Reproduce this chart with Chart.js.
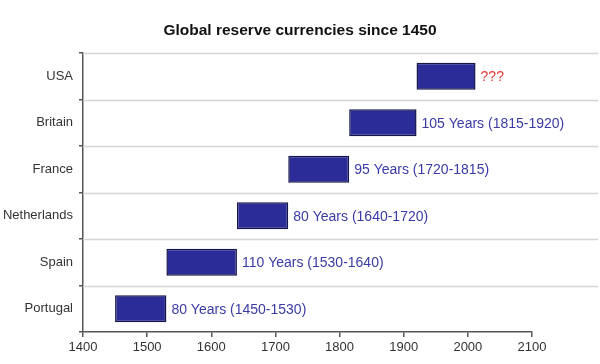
<!DOCTYPE html>
<html>
<head>
<meta charset="utf-8">
<script src="https://cdn.jsdelivr.net/npm/chart.js@4/dist/chart.umd.min.js"></script>
<style>
  html, body { margin: 0; padding: 0; background: #ffffff; }
  #wrap { width: 600px; height: 364px; }
</style>
</head>
<body>
<div id="wrap"><canvas id="reserveChart"></canvas></div>
<script>
const countries = ['USA', 'Britain', 'France', 'Netherlands', 'Spain', 'Portugal'];
const startYears = [1920, 1815, 1720, 1640, 1530, 1450];
const endYears = [2012, 1920, 1815, 1720, 1640, 1530];
const barLabels = ['???', '105 Years (1815-1920)', '95 Years (1720-1815)', '80 Years (1640-1720)', '110 Years (1530-1640)', '80 Years (1450-1530)'];
const labelColors = ['#e03a3a', '#3a3aa6', '#3a3aa6', '#3a3aa6', '#3a3aa6', '#3a3aa6'];
const yearTicks = [1400, 1500, 1600, 1700, 1800, 1900, 2000, 2100];
const chartTitle = 'Global reserve currencies since 1450';

const FONT = "'Liberation Sans', Arial, sans-serif";

// title centred on the whole canvas, not the plot area
const pageTitle = {
  id: 'pageTitle',
  afterDraw(chart) {
    const { ctx } = chart;
    ctx.save();
    ctx.font = 'bold 15.5px ' + FONT;
    ctx.fillStyle = '#111111';
    ctx.textAlign = 'center';
    ctx.textBaseline = 'middle';
    ctx.fillText(chartTitle, chart.width / 2, 31);
    ctx.restore();
  }
};

// long row separators that run past the x axis to the canvas edge
const rowLines = {
  id: 'rowLines',
  beforeDatasetsDraw(chart) {
    const { ctx, chartArea, scales: { y } } = chart;
    ctx.save();
    ctx.strokeStyle = '#d4d4d4';
    ctx.lineWidth = 1.5;
    for (let i = 0; i < countries.length; i++) {
      const yy = Math.round(y.getPixelForValue(i) - y.height / countries.length / 2) + 0.5;
      ctx.beginPath();
      ctx.moveTo(chartArea.left, yy);
      ctx.lineTo(chart.width - 2, yy);
      ctx.stroke();
    }
    ctx.restore();
  }
};

const endLabels = {
  id: 'endLabels',
  afterDatasetsDraw(chart) {
    const { ctx } = chart;
    const meta = chart.getDatasetMeta(0);
    ctx.save();
    ctx.font = '14px ' + FONT;
    ctx.textBaseline = 'middle';
    ctx.textAlign = 'left';
    meta.data.forEach((bar, i) => {
      ctx.fillStyle = labelColors[i];
      ctx.fillText(barLabels[i], bar.x + 5, bar.y + 1);
    });
    ctx.restore();
  }
};

new Chart(document.getElementById('reserveChart').getContext('2d'), {
  type: 'bar',
  data: {
    labels: countries,
    datasets: [{
      data: startYears.map((s, i) => [s, endYears[i]]),
      backgroundColor: '#2c2c98',
      borderColor: '#15154a',
      borderWidth: 1.5,
      borderSkipped: false,
      barPercentage: 0.58,
      categoryPercentage: 1
    }]
  },
  options: {
    indexAxis: 'y',
    animation: false,
    responsive: true,
    maintainAspectRatio: false,
    layout: { padding: { left: 0, right: 68, top: 53, bottom: 0 } },
    plugins: {
      legend: { display: false },
      tooltip: { enabled: false },
      title: { display: false }
    },
    scales: {
      x: {
        type: 'linear',
        min: 1400,
        max: 2100,
        afterBuildTicks(scale) {
          scale.ticks = yearTicks.map(v => ({ value: v }));
        },
        afterFit(scale) { scale.height = 32; },
        ticks: {
          color: '#333333',
          padding: 3,
          font: { family: FONT, size: 13 },
          callback: v => String(v)
        },
        grid: { drawOnChartArea: false, tickLength: 5, color: '#555555', lineWidth: 1.5 },
        border: { color: '#555555', width: 1.5 }
      },
      y: {
        afterFit(scale) { scale.width = 83; },
        ticks: {
          color: '#333333',
          padding: 6,
          font: { family: FONT, size: 13 }
        },
        grid: { offset: true, drawOnChartArea: false, tickLength: 4, color: '#555555', lineWidth: 1.5 },
        border: { color: '#555555', width: 1.5 }
      }
    }
  },
  plugins: [rowLines, endLabels, pageTitle]
});
</script>
</body>
</html>
